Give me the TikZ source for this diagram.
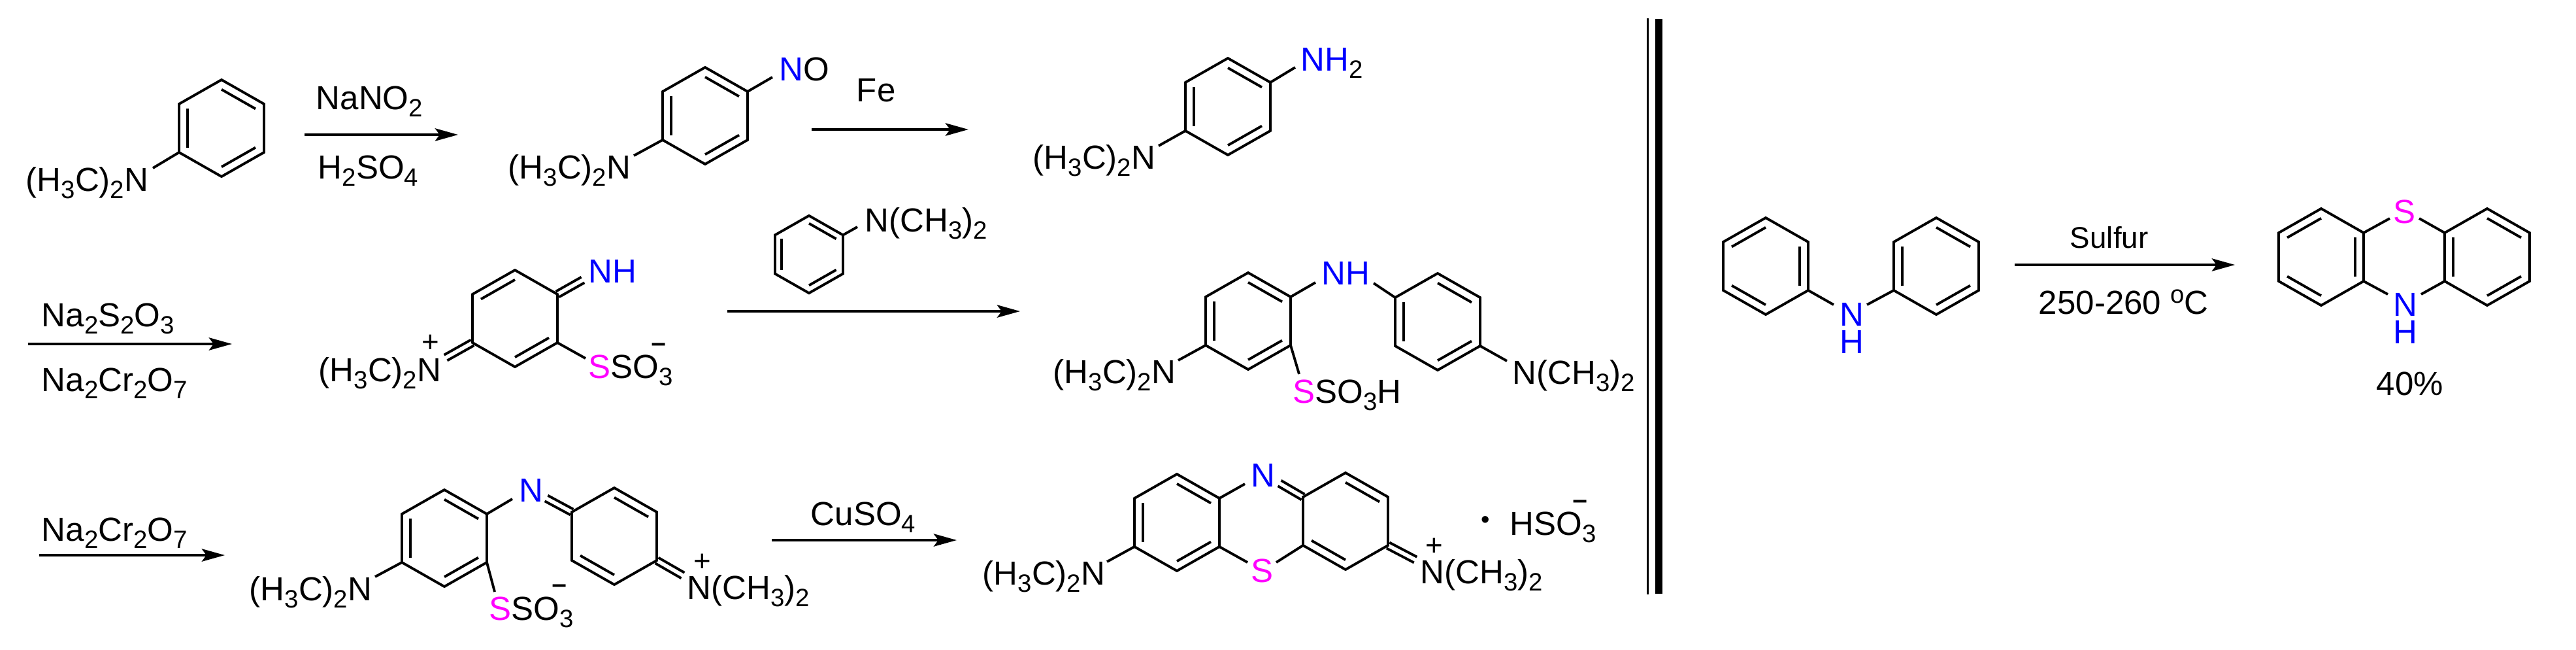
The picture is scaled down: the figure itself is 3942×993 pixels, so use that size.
\documentclass[tikz,border=0pt]{standalone}
\usepackage{fontspec}
\usepackage{graphicx}
\usetikzlibrary{arrows.meta, calc}
\setmainfont{Liberation Sans}
\definecolor{sulfur}{RGB}{255,0,255}
\definecolor{nitro}{RGB}{0,0,255}

\newcommand{\subn}[1]{\raisebox{-3.4pt}{\fontsize{10.9}{12}\selectfont #1}}
\newcommand{\nit}[1]{\textcolor{nitro}{#1}}
\newcommand{\sul}[1]{\textcolor{sulfur}{#1}}
\newcommand{\dimethylL}{(H\subn{3}C)\subn{2}N}
\newcommand{\dimethylR}{N(CH\subn{3})\subn{2}}

% ring: name, centre x, centre y, optional scale
\newcommand{\ringat}[4][1]{
    \coordinate (#2) at (#3,#4);
    \coordinate (#2-1) at ($(#2)+(0,-74*#1)$);
    \coordinate (#2-2) at ($(#2)+(65*#1,-37*#1)$);
    \coordinate (#2-3) at ($(#2)+(65*#1,37*#1)$);
    \coordinate (#2-4) at ($(#2)+(0,74*#1)$);
    \coordinate (#2-5) at ($(#2)+(-65*#1,37*#1)$);
    \coordinate (#2-6) at ($(#2)+(-65*#1,-37*#1)$);
    \draw (#2-1) -- (#2-2) -- (#2-3) -- (#2-4) -- (#2-5) -- (#2-6) -- cycle;
}
\newcommand{\inbonds}[2]{
    \foreach \a/\b in {#2} {
        \draw ($(#1)!0.8!(#1-\a)$) -- ($(#1)!0.8!(#1-\b)$);
    }
}
\newcommand{\exobond}[2]{
    \draw ($(#1)!1.4pt!90:(#2)$) -- ($(#2)!1.4pt!-90:(#1)$);
    \draw ($(#1)!1.4pt!-90:(#2)$) -- ($(#2)!1.4pt!90:(#1)$);
}

\tikzset{
    lab/.style={anchor=base west, xshift=-0.85pt, inner sep=0pt, font=\fontsize{14.5}{16}\selectfont},
    chg/.style={anchor=base, inner sep=0pt, font=\fontsize{13}{15}\selectfont},
    mns/.style={anchor=base, inner sep=0pt, font=\fontsize{14.5}{16}\selectfont},
    rxn/.style={-{Stealth[length=10pt,width=5.5pt,inset=2pt]}},
}

\begin{document}
\begin{tikzpicture}[x=0.01cm, y=-0.01cm, line width=1.1pt]

    \useasboundingbox (0,0) rectangle (3942,993);

    % top row
    \ringat{A}{339}{196}
    \inbonds{A}{1/2,3/4,5/6}
    \node[lab] (aN) at (41,292) {\dimethylL};
    \coordinate (aNe) at (234,257);
    \draw (A-5) -- (aNe);

    \coordinate (r1s) at (466,206);
    \coordinate (r1e) at (701,206);
    \draw[rxn] (r1s) -- (r1e);
    \node[lab] (r1a) at (485,167) {NaNO\subn{2}};
    \node[lab] (r1b) at (488,273) {H\subn{2}SO\subn{4}};

    \ringat{B}{1079}{177}
    \inbonds{B}{1/2,3/4,5/6}
    \node[lab] (bN) at (779,273) {\dimethylL};
    \node[lab] (bNO) at (1194,123) {\nit{N}O};
    \coordinate (bNe) at (970,238);
    \coordinate (bOe) at (1182,118);
    \draw (B-5) -- (bNe);
    \draw (B-2) -- (bOe);

    \coordinate (r2s) at (1242,198);
    \coordinate (r2e) at (1482,198);
    \draw[rxn] (r2s) -- (r2e);
    \node[lab] (r2a) at (1312,155) {Fe};

    \ringat{C}{1879}{163}
    \inbonds{C}{1/2,3/4,5/6}
    \node[lab] (cN) at (1582,258) {\dimethylL};
    \node[lab] (cNH) at (1992,108) {\nit{NH}\subn{2}};
    \coordinate (cNe) at (1773,223);
    \coordinate (cHe) at (1982,103);
    \draw (C-5) -- (cNe);
    \draw (C-2) -- (cHe);

    % middle row
    \coordinate (r3s) at (43,526);
    \coordinate (r3e) at (355,526);
    \draw[rxn] (r3s) -- (r3e);
    \node[lab] (r3a) at (65,499) {Na\subn{2}S\subn{2}O\subn{3}};
    \node[lab] (r3b) at (65,598) {Na\subn{2}Cr\subn{2}O\subn{7}};

    \ringat{D}{788}{487}
    \inbonds{D}{1/6,3/4}
    \node[lab] (dN) at (489,583) {\dimethylL};
    \node[lab] (dNH) at (902,432) {\nit{NH}};
    \node[lab] (dS) at (902,578) {\sul{S}SO\subn{3}};
    \node[chg] (dp) at (659,538) {+};
    \node[mns] (dm) at (1008,540) {\scalebox{1.6}[1]{-}};
    \coordinate (dNe) at (682,547);
    \coordinate (dHe) at (892,428);
    \coordinate (dSe) at (896,548);
    \exobond{D-5}{dNe}
    \exobond{D-2}{dHe}
    \draw (D-3) -- (dSe);

    \ringat[0.8]{E}{1238}{389}
    \inbonds{E}{1/2,3/4,5/6}
    \node[lab] (eN) at (1325,354) {\dimethylR};
    \coordinate (eNe) at (1312,347);
    \draw (E-2) -- (eNe);

    \coordinate (r4s) at (1113,476);
    \coordinate (r4e) at (1561,476);
    \draw[rxn] (r4s) -- (r4e);

    \ringat{F}{1910}{491}
    \inbonds{F}{1/2,3/4,5/6}
    \ringat{G}{2200}{492}
    \inbonds{G}{1/2,3/4,5/6}
    \node[lab] (fN) at (1613,586) {\dimethylL};
    \node[lab] (fS) at (1980,616) {\sul{S}SO\subn{3}H};
    \node[lab] (fNH) at (2024,435) {\nit{NH}};
    \node[lab] (gN) at (2316,587) {\dimethylR};
    \coordinate (fNe) at (1803,551);
    \coordinate (fSe) at (1988,572);
    \coordinate (fHe) at (2013,432);
    \coordinate (gHe) at (2102,433);
    \coordinate (gNe) at (2306,552);
    \draw (F-5) -- (fNe);
    \draw (F-3) -- (fSe);
    \draw (F-2) -- (fHe);
    \draw (G-6) -- (gHe);
    \draw (G-3) -- (gNe);

    % divider
    \coordinate (v1t) at (2521.5,28);
    \coordinate (v1b) at (2521.5,909);
    \coordinate (v2t) at (2538.5,29);
    \coordinate (v2b) at (2538.5,908);
    \draw[line width=0.9pt] (v1t) -- (v1b);
    \draw[line width=3.1pt] (v2t) -- (v2b);

    % bottom row
    \coordinate (r5s) at (60,849);
    \coordinate (r5e) at (344,849);
    \draw[rxn] (r5s) -- (r5e);
    \node[lab] (r5a) at (65,827) {Na\subn{2}Cr\subn{2}O\subn{7}};

    \ringat{H}{680}{823}
    \inbonds{H}{1/2,3/4,5/6}
    \ringat{I}{940}{820}
    \inbonds{I}{1/2,4/5}
    \node[lab] (hN) at (383,918) {\dimethylL};
    \node[lab] (hS) at (750,948) {\sul{S}SO\subn{3}};
    \node[lab] (hNb) at (796,767) {\nit{N}};
    \node[lab] (iN) at (1053,916) {\dimethylR};
    \node[chg] (ip) at (1075,873) {+};
    \node[mns] (hm) at (856,909) {\scalebox{1.6}[1]{-}};
    \coordinate (hNe) at (574,882);
    \coordinate (hSe) at (757,905);
    \coordinate (hBe) at (784,763);
    \coordinate (iBe) at (836,762);
    \coordinate (iNe) at (1045,880);
    \draw (H-5) -- (hNe);
    \draw (H-3) -- (hSe);
    \draw (H-2) -- (hBe);
    \exobond{I-6}{iBe}
    \exobond{I-3}{iNe}

    \coordinate (r6s) at (1181,826);
    \coordinate (r6e) at (1464,826);
    \draw[rxn] (r6s) -- (r6e);
    \node[lab] (r6a) at (1242,803) {CuSO\subn{4}};

    \ringat{J}{1801}{799}
    \inbonds{J}{1/2,3/4,5/6}
    \ringat{K}{2059}{797}
    \inbonds{K}{1/2,4/5}
    \node[lab] (jN) at (1505,894) {\dimethylL};
    \node[lab] (jNb) at (1916,744) {\nit{N}};
    \node[lab] (jS) at (1916,890) {\sul{S}};
    \node[lab] (kN) at (2175,892) {\dimethylR};
    \node[chg] (kp) at (2195,849) {+};
    \node[chg, font=\fontsize{10.9}{12}\selectfont] (kd) at (2273,807) {\textbullet};
    \node[lab] (kH) at (2312,818) {HSO\subn{3}};
    \node[mns] (km) at (2418,780) {\scalebox{1.6}[1]{-}};
    \coordinate (jNe) at (1694,859);
    \coordinate (jBe) at (1905,740);
    \coordinate (jSe) at (1909,860);
    \coordinate (kBe) at (1958,739);
    \coordinate (kSe) at (1953,860);
    \coordinate (kNe) at (2166,856);
    \draw (J-5) -- (jNe);
    \draw (J-2) -- (jBe);
    \draw (J-3) -- (jSe);
    \exobond{K-6}{kBe}
    \draw (K-5) -- (kSe);
    \exobond{K-3}{kNe}

    % right side
    \ringat{L}{2702}{407}
    \inbonds{L}{1/6,2/3,4/5}
    \ringat{M}{2963}{407}
    \inbonds{M}{1/2,3/4,5/6}
    \node[lab] (lN) at (2817,498) {\nit{N}};
    \node[lab] (lH) at (2817,540) {\nit{H}};
    \coordinate (lNe) at (2806,466);
    \coordinate (mNe) at (2857,466);
    \draw (L-3) -- (lNe);
    \draw (M-5) -- (mNe);

    \coordinate (r7s) at (3083,405);
    \coordinate (r7e) at (3420,405);
    \draw[rxn] (r7s) -- (r7e);
    \node[lab, font=\fontsize{13}{15}\selectfont] (r7a) at (3169,379) {Sulfur};
    \node[lab] (r7b) at (3121,480) {250-260 \raisebox{4.6pt}{\fontsize{10.9}{12}\selectfont o}C};

    \ringat{N}{3552}{393}
    \inbonds{N}{1/6,2/3,4/5}
    \ringat{O}{3806}{393}
    \inbonds{O}{1/2,3/4,5/6}
    \node[lab] (nS) at (3664,341) {\sul{S}};
    \node[lab] (nN) at (3664,483) {\nit{N}};
    \node[lab] (nH) at (3664,525) {\nit{H}};
    \node[lab] (nY) at (3638,604) {40\%};
    \coordinate (nSe) at (3657,334);
    \coordinate (oSe) at (3702,334);
    \coordinate (nNe) at (3654,450);
    \coordinate (oNe) at (3705,450);
    \draw (N-2) -- (nSe);
    \draw (O-6) -- (oSe);
    \draw (N-3) -- (nNe);
    \draw (O-5) -- (oNe);
\end{tikzpicture}
\end{document}
